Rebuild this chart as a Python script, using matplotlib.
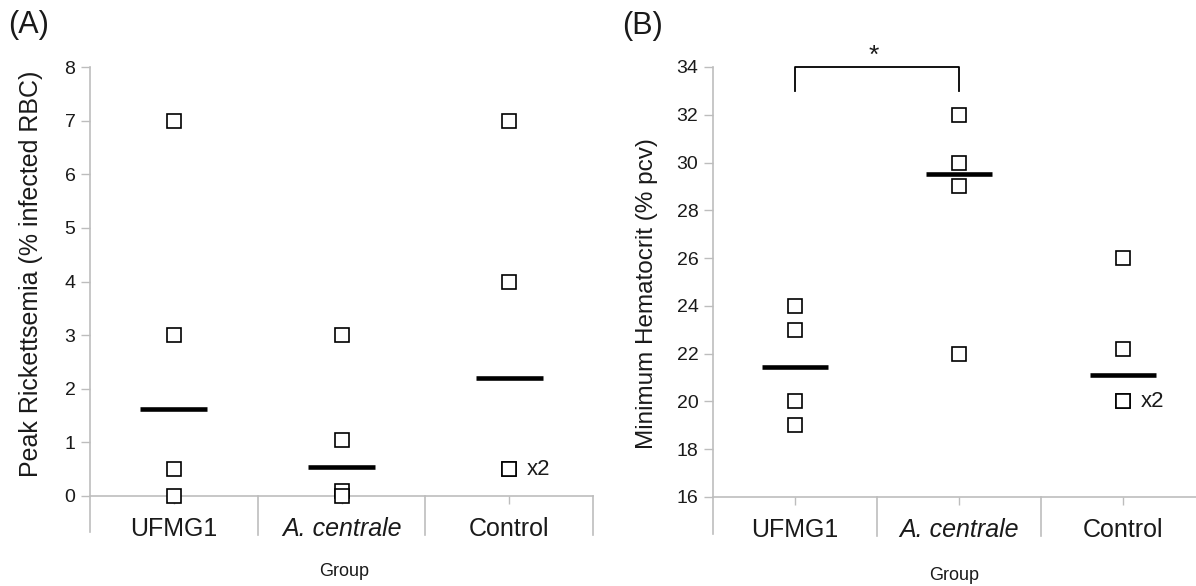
import matplotlib
matplotlib.use("Agg")
import matplotlib.pyplot as plt
from matplotlib.transforms import blended_transform_factory

plt.rcParams['font.family'] = ['Liberation Sans', 'DejaVu Sans']

# Groups
groups = ["UFMG1", "A. centrale", "Control"]

# Panel A: peak rickettsemia (% infected RBC), individual animals
rick_ufmg1 = [7.0, 3.0, 0.5, 0.0]
rick_acentrale = [3.0, 1.05, 0.1, 0.0]
rick_control = [7.0, 4.0, 0.5, 0.5]
rick_center = [1.63, 0.55, 2.2]

# Panel B: minimum hematocrit (% pcv), individual animals
hct_ufmg1 = [24.0, 23.0, 20.0, 19.0]
hct_acentrale = [32.0, 30.0, 29.0, 22.0]
hct_control = [26.0, 22.2, 20.0, 20.0]
hct_center = [21.45, 29.5, 21.1]

rick_ticks = [0, 1, 2, 3, 4, 5, 6, 7, 8]
hct_ticks = [16, 18, 20, 22, 24, 26, 28, 30, 32, 34]

AXIS_GRAY = "#bdbdbd"
TEXT = "#1a1a1a"

W, H = 1196, 586
fig = plt.figure(figsize=(W / 100, H / 100), dpi=100)


def px_axes(left, top, right, bottom):
    return fig.add_axes([left / W, 1 - bottom / H, (right - left) / W, (bottom - top) / H])


def style_axes(ax, ylim, yticks, right_divider=True):
    ax.set_xlim(-0.5, 2.5)
    ax.set_ylim(*ylim)
    for s in ("top", "right", "left", "bottom"):
        ax.spines[s].set_visible(False)
    ax.set_yticks(yticks)
    ax.set_yticklabels([str(t) for t in yticks])
    ax.set_xticks(range(len(groups)))
    ax.set_xticklabels(groups)
    ax.get_xticklabels()[1].set_fontstyle("italic")
    ax.tick_params(axis="y", direction="out", length=6.5, width=1.0, color=AXIS_GRAY,
                   labelsize=14, labelcolor=TEXT, pad=4)
    ax.tick_params(axis="x", direction="out", length=6, width=1.0, color=AXIS_GRAY,
                   labelsize=18, labelcolor=TEXT, pad=9)
    tr = blended_transform_factory(ax.transData, ax.transAxes)
    # axis frame: left spine and baseline, category separators extending below
    ax.plot([0, 0], [1, -0.085], transform=ax.transAxes, color=AXIS_GRAY, lw=1.2, clip_on=False)
    ax.plot([0, 1], [0, 0], transform=ax.transAxes, color=AXIS_GRAY, lw=1.2, clip_on=False)
    seps = [0.5, 1.5] + ([2.5] if right_divider else [])
    for xs in seps:
        ax.plot([xs, xs], [0, -0.09], transform=tr, color=AXIS_GRAY, lw=1.2, clip_on=False)


def draw_points(ax, series, centers):
    for i, vals in enumerate(series):
        ax.plot([i] * len(vals), vals, linestyle="none", marker="s", ms=10.5,
                mfc="white", mec="black", mew=1.2, clip_on=False, zorder=3)
        ax.plot([i - 0.2, i + 0.2], [centers[i], centers[i]], color="black",
                lw=3.3, solid_capstyle="butt", zorder=4)


# Panel A
axA = px_axes(90, 67, 593, 496)
style_axes(axA, (0, 8), rick_ticks, right_divider=True)
draw_points(axA, [rick_ufmg1, rick_acentrale, rick_control], rick_center)
axA.annotate("x2", xy=(2, rick_control[3]), xytext=(13, 0), textcoords="offset points",
             ha="left", va="center", fontsize=16, color=TEXT)

# Panel B
axB = px_axes(713, 67, 1205, 497)
style_axes(axB, (16, 34), hct_ticks, right_divider=False)
draw_points(axB, [hct_ufmg1, hct_acentrale, hct_control], hct_center)
axB.annotate("x2", xy=(2, hct_control[3]), xytext=(13, 0), textcoords="offset points",
             ha="left", va="center", fontsize=16, color=TEXT)

# significance bracket between UFMG1 and A. centrale
axB.plot([0, 0, 1, 1], [33.0, 34.0, 34.0, 33.0], color="black", lw=1.3,
         clip_on=False, zorder=5)
axB.text(0.48, 33.95, "*", ha="center", va="bottom", fontsize=19, color=TEXT)

# axis titles and panel letters
fig.text(31 / W, 1 - 274 / H, "Peak Rickettsemia (% infected RBC)", rotation=90,
         ha="center", va="center", fontsize=18, color=TEXT)
fig.text(647 / W, 1 - 294 / H, "Minimum Hematocrit (% pcv)", rotation=90,
         ha="center", va="center", fontsize=17.5, color=TEXT)
fig.text(344 / W, 1 - 572 / H, "Group", ha="center", va="center", fontsize=13, color=TEXT)
fig.text(954 / W, 1 - 575 / H, "Group", ha="center", va="center", fontsize=13, color=TEXT)
fig.text(29 / W, 1 - 25 / H, "(A)", ha="center", va="center", fontsize=22, color=TEXT)
fig.text(643 / W, 1 - 26 / H, "(B)", ha="center", va="center", fontsize=22, color=TEXT)

fig.savefig("out.png", dpi=100, facecolor="white")
